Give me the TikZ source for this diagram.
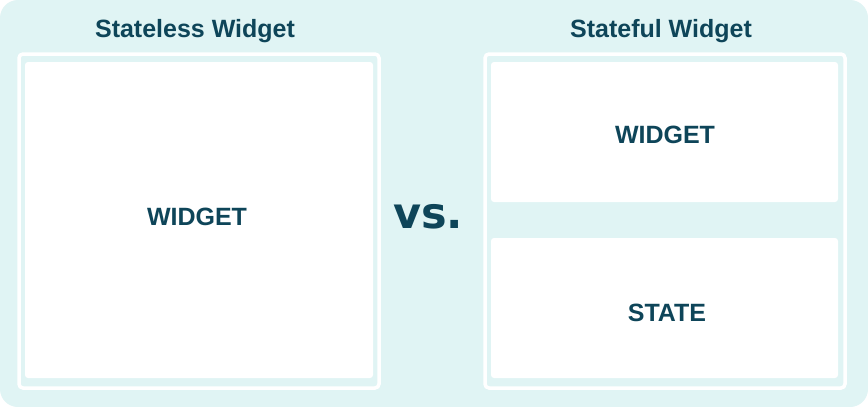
\documentclass[tikz,border=0pt]{standalone}
\usepackage{fontspec}
\setmainfont{Liberation Sans}
\newfontfamily\vsfont{DejaVu Sans}
\usepackage{tikz}
\definecolor{bgteal}{HTML}{E0F4F4}
\definecolor{inkteal}{HTML}{0E4559}
\tikzset{every picture/.style={x=1pt,y=-1pt},
  frame/.style={draw=white,line width=3.5pt,rounded corners=4pt,inner sep=0pt},
  panel/.style={fill=white,rounded corners=3pt,inner sep=0pt},
  title/.style={text=inkteal,font=\bfseries\fontsize{25}{29}\selectfont},
  label/.style={text=inkteal,font=\bfseries\fontsize{25}{29}\selectfont}}

\begin{document}
\begin{tikzpicture}

          \fill[white] (0,0) rectangle (868,407);
          \fill[bgteal,rounded corners=18pt] (0,0) rectangle (868,407);
          \useasboundingbox (0,0) rectangle (868,407);

          \draw[frame] (19,54) rectangle (379,388);
          \draw[frame] (485,54) rectangle (845,388);
          \fill[panel] (25,62) rectangle (373,378);
          \fill[panel] (491,62) rectangle (838,202);
          \fill[panel] (491,238) rectangle (838,378);

          \node[title] (tless) at (195,31){Stateless Widget};
          \node[title] (tful) at (661,31){Stateful Widget};

          \node[label] (w1) at (197,217){WIDGET};
          \node[label] (w2) at (665,135){WIDGET};
          \node[label] (st) at (667,313){STATE};

          \node[text=inkteal,font=\vsfont\bfseries\fontsize{43}{45}\selectfont,anchor=base,inner sep=0pt] (vs) at (428,228){vs.};

        \end{tikzpicture}
\end{document}
